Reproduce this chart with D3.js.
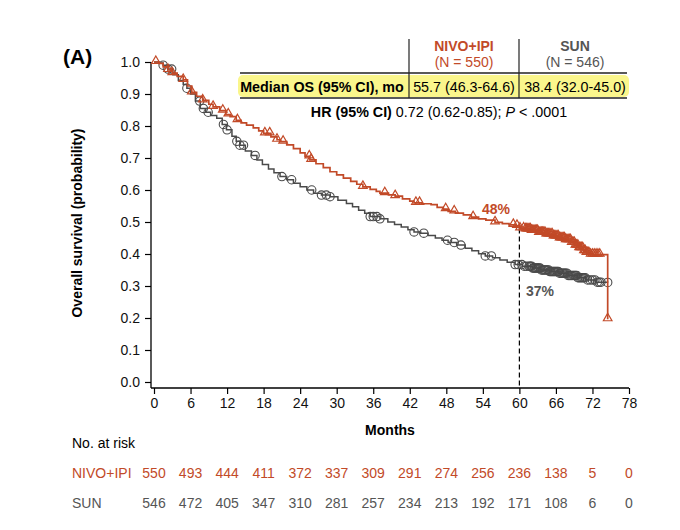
<!DOCTYPE html>
<html>
<head>
<meta charset="utf-8">
<script src="https://cdn.jsdelivr.net/npm/d3@7"></script>
<style>
  body { margin: 0; background: #fff; }
  svg { font-family: "Liberation Sans", Arial, sans-serif; }
</style>
</head>
<body>
<svg id="chart" width="680" height="530"></svg>
<script>
// Kaplan-Meier step points
const nivoMonths = [0, 0.8, 1.5, 2.3, 3.0, 3.8, 4.8, 5.5, 6.2, 7.0, 8.0, 9.0, 9.7, 10.8, 11.8, 12.5, 13.5, 14.3, 15.2, 16.3, 17.2, 18.0, 19.2, 20.2, 20.7, 21.8, 22.9, 24.0, 24.8, 25.6, 26.6, 27.8, 28.9, 30.0, 31.1, 32.3, 33.3, 34.3, 35.5, 36.5, 37.1, 38.5, 39.6, 40.8, 42.0, 42.7, 44.0, 45.5, 46.5, 47.5, 48.3, 49.5, 50.8, 52.1, 53.3, 54.5, 56.0, 57.2, 58.3, 59.3, 60.0, 61.0, 62.0, 63.2, 64.3, 65.5, 66.5, 67.5, 68.5, 69.2, 69.8, 70.5, 71.0, 71.6, 74.5];
const nivoSurv = [1.000, 0.996, 0.985, 0.975, 0.965, 0.955, 0.944, 0.925, 0.905, 0.893, 0.880, 0.868, 0.860, 0.848, 0.836, 0.829, 0.818, 0.810, 0.803, 0.794, 0.785, 0.777, 0.766, 0.757, 0.751, 0.741, 0.729, 0.716, 0.705, 0.694, 0.682, 0.670, 0.657, 0.647, 0.637, 0.627, 0.618, 0.610, 0.602, 0.596, 0.590, 0.585, 0.581, 0.572, 0.565, 0.560, 0.557, 0.554, 0.546, 0.540, 0.533, 0.528, 0.522, 0.515, 0.510, 0.506, 0.499, 0.495, 0.491, 0.488, 0.480, 0.477, 0.472, 0.466, 0.461, 0.455, 0.449, 0.443, 0.435, 0.426, 0.418, 0.409, 0.403, 0.398, 0.196];

const sunMonths = [0, 0.8, 1.5, 2.3, 3.1, 4.0, 4.8, 5.4, 6.0, 6.8, 7.6, 8.5, 9.3, 10.3, 11.2, 11.9, 12.8, 13.5, 14.1, 15.0, 16.0, 16.9, 17.8, 18.8, 19.7, 20.7, 21.8, 22.9, 24.0, 25.1, 26.2, 27.5, 28.9, 30.2, 31.6, 32.6, 33.6, 34.6, 35.5, 37.1, 38.4, 39.5, 40.6, 41.7, 42.7, 43.8, 45.0, 46.2, 47.3, 48.3, 49.7, 51.1, 52.2, 53.3, 54.4, 55.6, 56.8, 58.0, 59.3, 60.5, 62.1, 63.5, 65.0, 66.5, 68.0, 69.5, 70.9, 72.5, 74.5];
const sunSurv = [1.000, 0.997, 0.990, 0.978, 0.960, 0.942, 0.930, 0.918, 0.900, 0.878, 0.855, 0.843, 0.833, 0.824, 0.805, 0.788, 0.768, 0.752, 0.740, 0.722, 0.708, 0.694, 0.680, 0.666, 0.654, 0.642, 0.632, 0.621, 0.610, 0.600, 0.590, 0.584, 0.579, 0.568, 0.558, 0.548, 0.537, 0.527, 0.517, 0.510, 0.500, 0.492, 0.484, 0.476, 0.469, 0.465, 0.458, 0.450, 0.443, 0.436, 0.428, 0.418, 0.410, 0.401, 0.394, 0.388, 0.381, 0.374, 0.367, 0.362, 0.356, 0.350, 0.345, 0.340, 0.333, 0.326, 0.319, 0.312, 0.311];

// censoring times (marks sit on the curve)
const nivoCensor = [0.3, 2.3, 3.0, 4.8, 6.2, 8.0, 9.7, 11.3, 12.2, 13.7, 18.2, 19.0, 20.2, 21.2, 25.5, 25.8, 34.3, 37.9, 39.6, 43.0, 43.6, 47.9, 49.3, 52.4, 56.0, 59.0, 59.6, 60.1, 60.7,
  61.0, 61.2, 61.4, 61.6, 61.8, 62.0, 62.2, 62.4, 62.6, 62.8, 63.0, 63.2, 63.4, 63.6, 63.8, 64.0, 64.2, 64.4, 64.6, 64.8, 65.0, 65.2, 65.4, 65.6, 65.8, 66.0, 66.2, 66.4, 66.6, 66.8,
  67.0, 67.2, 67.4, 67.6, 67.8, 68.0, 68.2, 68.4, 68.6, 68.8, 69.0, 69.2, 69.4, 69.6, 69.8, 70.0, 70.2, 70.4, 70.6, 70.8, 71.0, 71.2, 71.4, 71.7, 72.0, 72.3, 72.6, 72.9, 73.2, 74.5];
const sunCensor = [1.5, 2.3, 2.9, 5.4, 7.5, 8.1, 8.9, 11.4, 12.0, 13.6, 14.1, 14.7, 16.6, 21.0, 22.6, 25.9, 27.5, 28.3, 28.9, 35.5, 36.0, 36.6, 37.1, 42.7, 44.3, 48.2, 49.3, 50.4, 54.4, 55.4, 59.3, 59.8,
  60.4, 60.8, 61.2, 61.6, 61.8, 62.0, 62.2, 62.4, 62.6, 62.8, 63.0, 63.2, 63.4, 63.6, 63.8, 64.0, 64.2, 64.4, 64.6, 64.8, 65.0, 65.2, 65.4, 65.6, 65.8, 66.0, 66.2, 66.4, 66.6, 66.8,
  67.0, 67.2, 67.4, 67.6, 67.8, 68.0, 68.2, 68.4, 68.6, 68.8, 69.0, 69.2, 69.4, 69.6, 69.8, 70.0, 70.2, 70.4, 70.6, 70.8, 71.2, 71.6, 72.0, 72.4, 72.8, 73.1, 73.4, 74.5];

const xTicks = [0, 6, 12, 18, 24, 30, 36, 42, 48, 54, 60, 66, 72, 78];
const yTicks = [0, 0.1, 0.2, 0.3, 0.4, 0.5, 0.6, 0.7, 0.8, 0.9, 1.0];
const nivoAtRisk = [550, 493, 444, 411, 372, 337, 309, 291, 274, 256, 236, 138, 5, 0];
const sunAtRisk = [546, 472, 405, 347, 310, 281, 257, 234, 213, 192, 171, 108, 6, 0];

const RED = "#c24a28";
const GREY = "#4a4a4a";

const svg = d3.select("#chart");
const x = d3.scaleLinear().domain([0, 78]).range([154, 629]);
const y = d3.scaleLinear().domain([0, 1]).range([382, 62]);

// axis lines (offset from the zero ticks, like the original)
svg.append("line").attr("x1", 151).attr("x2", 151).attr("y1", y(1)).attr("y2", 388)
  .attr("stroke", "#000").attr("stroke-width", 1.3);
svg.append("line").attr("x1", 151).attr("x2", x(78)).attr("y1", 388).attr("y2", 388)
  .attr("stroke", "#000").attr("stroke-width", 1.3);

let yAxis = svg.append("g").attr("transform", "translate(151,0)")
  .call(d3.axisLeft(y).tickValues(yTicks).tickFormat(d3.format(".1f")).tickSize(6).tickPadding(5));
yAxis.select(".domain").remove();
let xAxis = svg.append("g").attr("transform", "translate(0,388)")
  .call(d3.axisBottom(x).tickValues(xTicks).tickSize(6).tickPadding(4));
xAxis.select(".domain").remove();
svg.selectAll(".tick line").attr("stroke", "#000").attr("stroke-width", 1.2);
svg.selectAll(".tick text").attr("font-size", 14).attr("fill", "#111")
  .style("font-family", "Liberation Sans, Arial, sans-serif");

// axis titles
svg.append("text").attr("transform", "translate(82,223) rotate(-90)")
  .attr("text-anchor", "middle").attr("font-size", 14).attr("font-weight", "bold").text("Overall survival (probability)");
svg.append("text").attr("x", 390).attr("y", 435).attr("text-anchor", "middle")
  .attr("font-size", 14).attr("font-weight", "bold").text("Months");
svg.append("text").attr("x", 63).attr("y", 64).attr("font-size", 21).attr("font-weight", "bold").text("(A)");

// dashed 60-month reference line
let stepAt = function(months, surv, t) {
  let i = d3.bisectRight(months, t) - 1;
  return surv[Math.max(0, i)];
};
svg.append("line").attr("x1", x(60)).attr("x2", x(60))
  .attr("y1", y(stepAt(nivoMonths, nivoSurv, 60))).attr("y2", 388)
  .attr("stroke", "#000").attr("stroke-width", 1.2).attr("stroke-dasharray", "5,3");

// curves
let line = d3.line().curve(d3.curveStepAfter).x(d => x(d[0])).y(d => y(d[1]));
let series = [
  { months: sunMonths, surv: sunSurv, censor: sunCensor, color: GREY, width: 1.5, mark: "circle" },
  { months: nivoMonths, surv: nivoSurv, censor: nivoCensor, color: RED, width: 1.7, mark: "triangle" }
];
series.forEach(function(s) {
  let pts = s.months.map((m, i) => [m, s.surv[i]]);
  svg.append("path").datum(pts).attr("d", line)
    .attr("fill", "none").attr("stroke", s.color).attr("stroke-width", s.width);
  let g = svg.append("g");
  s.censor.forEach(function(t) {
    let cx = x(t), cy = y(stepAt(s.months, s.surv, t));
    if(s.mark === "circle") {
      g.append("circle").attr("cx", cx).attr("cy", cy).attr("r", 4.2)
        .attr("fill", "none").attr("stroke", s.color).attr("stroke-width", 1.1);
    } else {
      g.append("path").attr("d", d3.symbol(d3.symbolTriangle, 32)())
        .attr("transform", "translate(" + cx + "," + (cy - 1) + ")")
        .attr("fill", "none").attr("stroke", s.color).attr("stroke-width", 1.2);
    }
  });
});

// landmark labels
svg.append("text").attr("x", 496).attr("y", 214).attr("text-anchor", "middle")
  .attr("font-size", 14).attr("font-weight", "bold").attr("fill", RED).text("48%");
svg.append("text").attr("x", 540).attr("y", 296).attr("text-anchor", "middle")
  .attr("font-size", 14).attr("font-weight", "bold").attr("fill", "#555").text("37%");

// summary table
let tbl = svg.append("g");
tbl.append("rect").attr("x", 238).attr("y", 75).attr("width", 391).attr("height", 22)
  .attr("rx", 5).attr("fill", "#faf68c");
[409, 519].forEach(function(vx) {
  tbl.append("line").attr("x1", vx).attr("x2", vx).attr("y1", 39).attr("y2", 98)
    .attr("stroke", "#222").attr("stroke-width", 1.2);
});
[73, 98].forEach(function(hy) {
  tbl.append("line").attr("x1", 240).attr("x2", 627).attr("y1", hy).attr("y2", hy)
    .attr("stroke", "#222").attr("stroke-width", 1.3);
});
let hdr = [
  { cx: 464, top: "NIVO+IPI", bottom: "(N = 550)", color: RED },
  { cx: 575, top: "SUN", bottom: "(N = 546)", color: "#555" }
];
hdr.forEach(function(h) {
  tbl.append("text").attr("x", h.cx).attr("y", 51).attr("text-anchor", "middle")
    .attr("font-size", 14).attr("font-weight", "bold").attr("fill", h.color).text(h.top);
  tbl.append("text").attr("x", h.cx).attr("y", 67).attr("text-anchor", "middle")
    .attr("font-size", 14).attr("fill", h.color).text(h.bottom);
});
tbl.append("text").attr("x", 322).attr("y", 92).attr("text-anchor", "middle")
  .attr("font-size", 14.3).attr("font-weight", "bold").text("Median OS (95% CI), mo");
tbl.append("text").attr("x", 464).attr("y", 92).attr("text-anchor", "middle")
  .attr("font-size", 14.3).text("55.7 (46.3-64.6)");
tbl.append("text").attr("x", 575).attr("y", 92).attr("text-anchor", "middle")
  .attr("font-size", 14.3).text("38.4 (32.0-45.0)");
let hr = tbl.append("text").attr("x", 439).attr("y", 117).attr("text-anchor", "middle").attr("font-size", 14.3);
hr.append("tspan").attr("font-weight", "bold").text("HR (95% CI)");
hr.append("tspan").text(" 0.72 (0.62-0.85); ");
hr.append("tspan").attr("font-style", "italic").text("P");
hr.append("tspan").text(" < .0001");

// number at risk
svg.append("text").attr("x", 72).attr("y", 448).attr("font-size", 14).text("No. at risk");
let rows = [
  { label: "NIVO+IPI", values: nivoAtRisk, color: RED, y: 478 },
  { label: "SUN", values: sunAtRisk, color: "#555", y: 508 }
];
rows.forEach(function(r) {
  svg.append("text").attr("x", 72).attr("y", r.y).attr("font-size", 14).attr("fill", r.color).text(r.label);
  svg.append("g").selectAll("text").data(r.values).join("text")
    .attr("x", (d, i) => x(xTicks[i])).attr("y", r.y).attr("text-anchor", "middle")
    .attr("font-size", 14).attr("fill", r.color).text(d => d);
});
</script>
</body>
</html>
